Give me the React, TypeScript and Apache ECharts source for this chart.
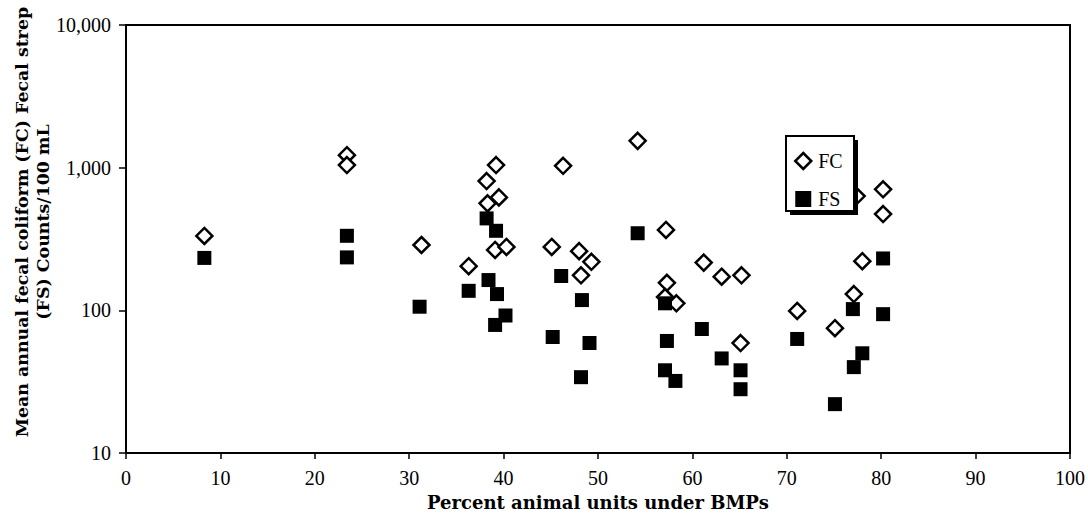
import React, { useEffect, useRef } from "react";
import * as echarts from "echarts";

const fcX = [8.3, 23.4, 23.4, 31.3, 36.3, 38.2, 38.3, 39.1, 39.2, 39.5, 40.3, 45.1, 46.3, 48.0, 48.2, 49.3, 54.2, 57.2, 57.3, 57.1, 58.3, 61.2, 63.1, 65.2, 65.1, 71.1, 75.1, 77.1, 77.4, 78.0, 80.2, 80.2];
const fcY = [332, 1224, 1043, 287, 204, 805, 562, 265, 1043, 619, 278, 278, 1030, 260, 176, 219, 1541, 366, 156, 124, 112, 216, 172, 176, 59, 99, 75, 130, 632, 221, 705, 473];
const fsX = [8.3, 23.4, 23.4, 31.1, 36.3, 38.2, 38.4, 39.2, 39.3, 39.1, 40.2, 45.2, 46.1, 48.3, 48.2, 49.1, 54.2, 57.1, 57.3, 57.1, 58.2, 61.0, 63.1, 65.1, 65.1, 71.1, 75.1, 77.0, 77.1, 78.0, 80.2, 80.2];
const fsY = [233, 333, 235, 106, 137, 441, 163, 361, 130, 79, 92, 65, 174, 118, 34, 59, 347, 112, 61, 38, 32, 74, 46, 38, 28, 63, 22, 102, 40, 50, 231, 94];

const seriesNames = ["FC", "FS"];
const xTitle = "Percent animal units under BMPs";
const yTitleLines = ["Mean annual fecal coliform (FC) Fecal strep", "(FS) Counts/100 mL"];

const FONT = "Liberation Serif";
const TITLE_FONT = "DejaVu Serif";

export default function App() {
  const ref = useRef<HTMLDivElement>(null);
  useEffect(() => {
    if (!ref.current) return;
    const chart = echarts.init(ref.current, null, { renderer: "svg" });
    const fcData = fcX.map((x, i) => [x, fcY[i]]);
    const fsData = fsX.map((x, i) => [x, fsY[i]]);
    chart.setOption({
      animation: false,
      backgroundColor: "#ffffff",
      grid: {
        left: 126,
        right: 16,
        top: 25,
        bottom: 64,
        show: true,
        borderColor: "#000",
        borderWidth: 2,
        backgroundColor: "transparent",
      },
      xAxis: {
        type: "value",
        min: 0,
        max: 100,
        interval: 10,
        splitLine: { show: false },
        axisLine: { show: true, lineStyle: { color: "#000", width: 2 } },
        axisTick: { show: true, inside: false, length: 6, lineStyle: { color: "#000", width: 1.5 } },
        axisLabel: { color: "#000", fontFamily: FONT, fontSize: 20, margin: 15 },
        name: xTitle,
        nameLocation: "middle",
        nameGap: 40,
        nameTextStyle: { color: "#000", fontFamily: TITLE_FONT, fontSize: 18, fontWeight: "bold" },
      },
      yAxis: {
        type: "log",
        logBase: 10,
        min: 10,
        max: 10000,
        splitLine: { show: false },
        minorTick: { show: false },
        axisLine: { show: true, lineStyle: { color: "#000", width: 2 } },
        axisTick: { show: true, inside: false, length: 7, lineStyle: { color: "#000", width: 1.5 } },
        axisLabel: {
          color: "#000",
          fontFamily: FONT,
          fontSize: 20,
          margin: 15,
          formatter: (v: number) => Math.round(v).toLocaleString("en-US"),
        },
      },
      legend: {
        left: 794,
        top: 151,
        orient: "vertical",
        z: 8,
        data: [
          { name: "FC", icon: "diamond", itemStyle: { color: "#fff", borderColor: "#000", borderWidth: 2.5 } },
          { name: "FS", icon: "rect", itemStyle: { color: "#000" } },
        ],
        itemWidth: 16,
        itemHeight: 16,
        itemGap: 18,
        padding: 0,
        textStyle: { color: "#000", fontFamily: FONT, fontSize: 20, padding: [0, 0, 0, 2] },
      },
      graphic: [
        {
          type: "rect",
          shape: { x: 790, y: 140, width: 68, height: 75 },
          style: { fill: "#000" },
          z: 6,
        },
        {
          type: "rect",
          shape: { x: 786, y: 136, width: 68, height: 75 },
          style: { fill: "#fff", stroke: "#000", lineWidth: 2 },
          z: 7,
        },
        {
          type: "text",
          x: 32,
          y: 222,
          rotation: Math.PI / 2,
          style: {
            text: yTitleLines.join("\n"),
            fill: "#000",
            font: `bold 17.4px "${TITLE_FONT}"`,
            align: "center",
            verticalAlign: "middle",
            lineHeight: 21,
          },
        },
      ],
      series: [
        {
          name: seriesNames[0],
          type: "scatter",
          symbol: "diamond",
          symbolSize: 16,
          data: fcData,
          itemStyle: { color: "#fff", borderColor: "#000", borderWidth: 2.5, opacity: 1 },
          z: 2,
        },
        {
          name: seriesNames[1],
          type: "scatter",
          symbol: "rect",
          symbolSize: 14,
          data: fsData,
          itemStyle: { color: "#000", opacity: 1 },
          z: 3,
        },
      ],
    });
    return () => chart.dispose();
  }, []);
  return <div ref={ref} style={{ position: "absolute", left: 0, top: 0, width: 1088, height: 517 }} />;
}
